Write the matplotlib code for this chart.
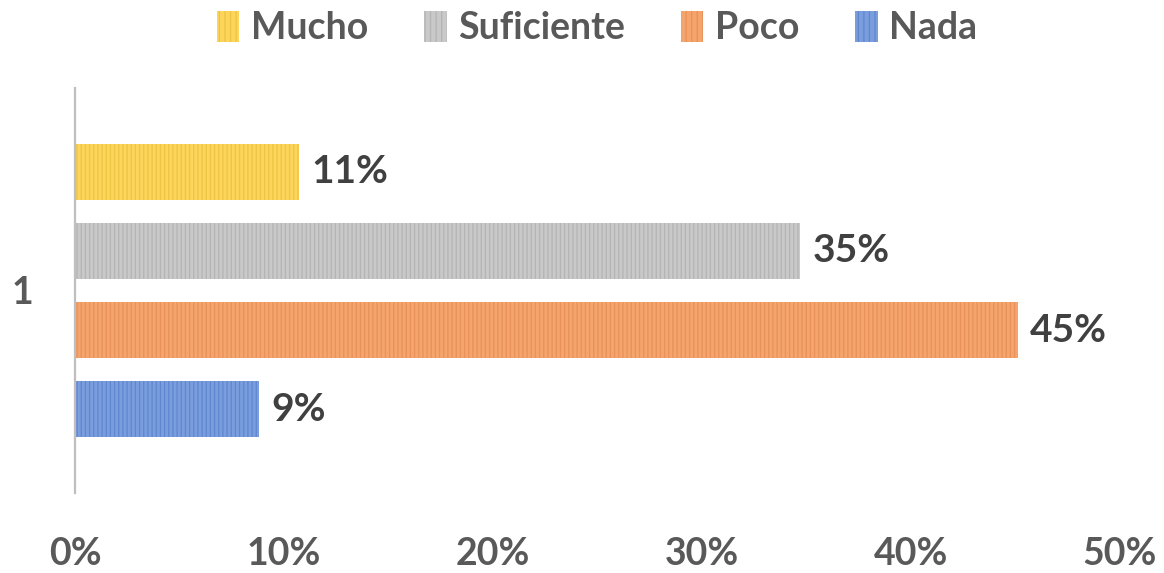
import matplotlib.pyplot as plt
from matplotlib.patches import Patch
from matplotlib.ticker import FuncFormatter

plt.rcParams['font.family'] = ['Lato', 'DejaVu Sans']
plt.rcParams['hatch.linewidth'] = 0.9

categories = ['Mucho', 'Suficiente', 'Poco', 'Nada']
values = [0.107, 0.347, 0.451, 0.088]
labels = ['11%', '35%', '45%', '9%']
colors = ['#FCD55A', '#C9C9C9', '#F5A46C', '#7A9DDD']
stripes = ['#EDC443', '#B4B4B4', '#E8915A', '#5F86CF']
group_label = '1'

fig = plt.figure(figsize=(11.64, 5.73), dpi=100)
ax = fig.add_axes([75 / 1164, 1 - 493 / 573, (1120 - 75) / 1164, (493 - 88) / 573])

ypos = [3, 2, 1, 0]
for y, v, c, s, lab in zip(ypos, values, colors, stripes, labels):
    ax.barh(y, v, height=0.7, color=c, edgecolor=s, hatch='||||', linewidth=0)
    ax.text(v + 0.006, y, lab, va='center', ha='left', fontsize=28,
            fontweight='bold', color='#404040')

ax.set_xlim(0, 0.5)
ax.set_ylim(-1.06, 4.06)
ax.set_xticks([0, 0.1, 0.2, 0.3, 0.4, 0.5])
ax.xaxis.set_major_formatter(FuncFormatter(lambda x, p: f'{x * 100:.0f}%'))
ax.set_yticks([1.5])
ax.set_yticklabels([group_label])
ax.tick_params(axis='x', length=0, pad=32, labelsize=27, labelcolor='#595959')
ax.tick_params(axis='y', length=0, pad=30, labelsize=27, labelcolor='#595959')
for t in ax.get_xticklabels() + ax.get_yticklabels():
    t.set_fontweight('bold')

for side in ['top', 'right', 'bottom']:
    ax.spines[side].set_visible(False)
ax.spines['left'].set_color('#BFBFBF')
ax.spines['left'].set_linewidth(1.6)

handles = [Patch(facecolor=c, edgecolor=s, hatch='|||', linewidth=0, label=n)
           for n, c, s in zip(categories, colors, stripes)]
leg = fig.legend(handles=handles, loc='center', bbox_to_anchor=(597 / 1164, 1 - 28 / 573),
                 ncol=4, frameon=False, handlelength=0.6, handleheight=0.9,
                 handletextpad=0.3, columnspacing=1.5,
                 prop={'size': 27, 'weight': 'bold'})
for t in leg.get_texts():
    t.set_color('#595959')

fig.savefig('out.png', dpi=100, facecolor='white')
